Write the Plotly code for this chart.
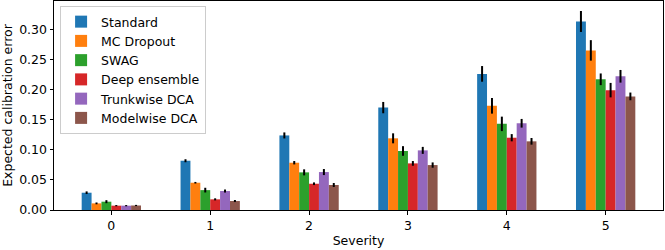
import plotly.graph_objects as go

severity = [0, 1, 2, 3, 4, 5]
methods = ["Standard", "MC Dropout", "SWAG", "Deep ensemble", "Trunkwise DCA", "Modelwise DCA"]
colors = ["#1f77b4", "#ff7f0e", "#2ca02c", "#d62728", "#9467bd", "#8c564b"]

standard = [0.0287, 0.0818, 0.1238, 0.170, 0.226, 0.313]
mc_dropout = [0.011, 0.0453, 0.0785, 0.119, 0.173, 0.265]
swag = [0.0138, 0.033, 0.0625, 0.098, 0.143, 0.217]
deep_ensemble = [0.0072, 0.0177, 0.0436, 0.0774, 0.120, 0.199]
trunkwise = [0.0072, 0.0315, 0.063, 0.099, 0.144, 0.222]
modelwise = [0.0075, 0.0149, 0.0415, 0.0746, 0.114, 0.1886]

standard_err = [0.0022, 0.0025, 0.005, 0.0094, 0.013, 0.0174]
mc_dropout_err = [0.0015, 0.0013, 0.0028, 0.0083, 0.013, 0.017]
swag_err = [0.0025, 0.0039, 0.005, 0.008, 0.012, 0.0097]
deep_ensemble_err = [0.001, 0.0017, 0.0022, 0.0039, 0.006, 0.012]
trunkwise_err = [0.001, 0.0025, 0.005, 0.0058, 0.0072, 0.0105]
modelwise_err = [0.001, 0.0017, 0.0033, 0.0044, 0.0055, 0.0064]

values = [standard, mc_dropout, swag, deep_ensemble, trunkwise, modelwise]
errors = [standard_err, mc_dropout_err, swag_err, deep_ensemble_err, trunkwise_err, modelwise_err]

font_family = "DejaVu Sans"
fs = 12.5

fig = go.Figure()
for name, color, v, e in zip(methods, colors, values, errors):
    fig.add_trace(go.Bar(
        x=severity, y=v, name=name,
        marker=dict(color=color, line=dict(width=0)),
        error_y=dict(type="data", array=e, visible=True, color="black", thickness=2, width=0),
    ))

fig.update_layout(
    width=665, height=250,
    margin=dict(l=54, r=2, t=1, b=40),
    barmode="group", bargap=0.4, bargroupgap=0,
    plot_bgcolor="white", paper_bgcolor="white",
    font=dict(family=font_family, size=fs, color="black"),
    legend=dict(
        x=0.01, y=0.976, xanchor="left", yanchor="top",
        bgcolor="rgba(255,255,255,0.8)", bordercolor="#cccccc", borderwidth=1,
        font=dict(size=fs), tracegroupgap=0,
    ),
)
fig.update_xaxes(
    range=[-0.58, 5.58], tickmode="array", tickvals=severity, ticktext=[str(s) for s in severity],
    showline=True, linecolor="black", linewidth=1, mirror=True,
    ticks="outside", ticklen=3.5, tickcolor="black", showgrid=False, zeroline=False,
    tickfont=dict(size=fs),
    title=dict(text="Severity", standoff=4, font=dict(size=fs)),
)
fig.update_yaxes(
    range=[0, 0.347], tickmode="array", tickvals=[0, 0.05, 0.10, 0.15, 0.20, 0.25, 0.30],
    tickformat=".2f",
    showline=True, linecolor="black", linewidth=1, mirror=True,
    ticks="outside", ticklen=3.5, tickcolor="black", showgrid=False, zeroline=False,
    tickfont=dict(size=fs),
    title=dict(text="Expected calibration error", standoff=6, font=dict(size=fs)),
)

fig.write_html(
    "out.html",
    config={"displayModeBar": False},
    post_script="document.body.style.margin='0';document.body.style.padding='0';",
)
